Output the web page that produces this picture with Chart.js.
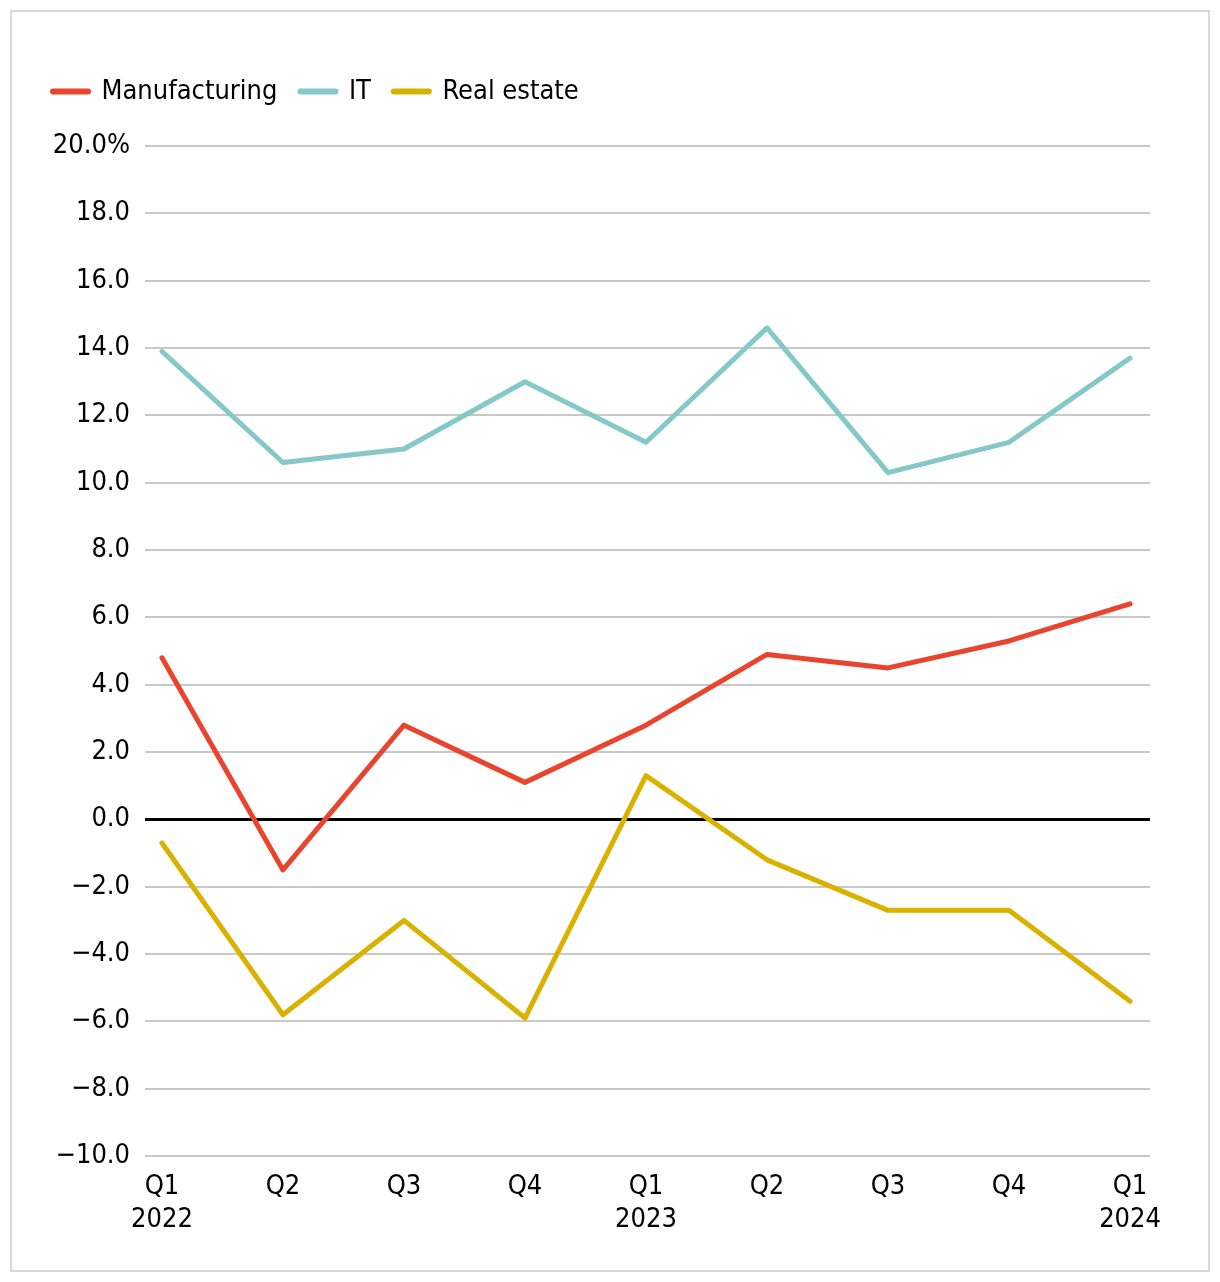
<!DOCTYPE html>
<html><head><meta charset="utf-8">
<script src="https://cdn.jsdelivr.net/npm/chart.js@4/dist/chart.umd.min.js"></script>
<style>html,body{margin:0;padding:0;background:#fff}#wrap{position:relative;width:1220px;height:1282px}</style>
</head><body><div id="wrap"><canvas id="c" width="1220" height="1282"></canvas></div>
<script>
const quarters = ['Q1','Q2','Q3','Q4','Q1','Q2','Q3','Q4','Q1'];
const years = ['2022','','','','2023','','','','2024'];
const manufacturing = [4.8,-1.5,2.8,1.1,2.8,4.9,4.5,5.3,6.4];
const it = [13.9,10.6,11.0,13.0,11.2,14.6,10.3,11.2,13.7];
const realEstate = [-0.7,-5.8,-3.0,-5.9,1.3,-1.2,-2.7,-2.7,-5.4];
const seriesNames = ['Manufacturing','IT','Real estate'];
const colors = ['#e8442e','#84c8c8','#d9b200'];
const yTicks = [-10,-8,-6,-4,-2,0,2,4,6,8,10,12,14,16,18,20];

const FONT = '"DejaVu Sans Condensed", "DejaVu Sans", sans-serif';
const toPts = arr => arr.map((v,i)=>({x:i,y:v}));
const mk = (label, data, color) => ({label, data: toPts(data), borderColor: color, backgroundColor: color,
  borderWidth: 5, pointRadius: 0, tension: 0, borderCapStyle: 'round', borderJoinStyle: 'round'});

const borderPlugin = {id:'frame', beforeDraw(chart){const c=chart.ctx;c.save();c.strokeStyle='#d9d9d9';c.lineWidth=2;c.strokeRect(11,11,1198,1260);c.restore();}};
const legendGap = {id:'legendGap', beforeInit(chart){ const lg = chart.legend; if(!lg) return; const orig = lg.fit; lg.fit = function(){ orig.call(this); this.height += 31; }; }};

new Chart(document.getElementById('c'), {
  type: 'line',
  data: { datasets: [mk(seriesNames[0], manufacturing, colors[0]), mk(seriesNames[1], it, colors[1]), mk(seriesNames[2], realEstate, colors[2])] },
  options: {
    responsive: false, animation: false, devicePixelRatio: 1,
    layout: { padding: { left: 30, right: 70, top: 55, bottom: 40 } },
    plugins: {
      tooltip: {enabled:false},
      legend: { position: 'top', align: 'start',
        labels: { font: {family: FONT, size: 27}, color: '#000', usePointStyle: true, pointStyle: 'line', pointStyleWidth: 35, boxHeight: 6, boxWidth: 35, padding: 23,
          generateLabels(chart){ return chart.data.datasets.map((d,i)=>({text:d.label, strokeStyle:d.borderColor, fillStyle:d.borderColor, lineWidth:6, lineCap:'round', pointStyle:'line', datasetIndex:i, fontColor:'#000'})); } } }
    },
    scales: {
      x: { type: 'linear', min: -0.14, max: 8.165,
        afterBuildTicks(s){ s.ticks = quarters.map((q,i)=>({value:i})); },
        ticks: { autoSkip: false, maxRotation: 0, font: {family: FONT, size: 27, lineHeight: 1.22}, color: '#000', padding: 6,
          callback(v){ const i = Math.round(v); return years[i] ? [quarters[i], years[i]] : quarters[i]; } },
        grid: { display: false }, border: { display: false } },
      y: { min: -10, max: 20,
        afterBuildTicks(s){ s.ticks = yTicks.map(v=>({value:v})); },
        afterFit(s){ s.width = 115; },
        ticks: { font: {family: FONT, size: 27}, color: '#000', padding: 15,
          callback(v){ if (v===20) return '20.0%'; return (v<0?'\u2212':'') + Math.abs(v).toFixed(1); } },
        grid: { drawTicks: false, color: c => c.tick && c.tick.value===0 ? '#000' : '#c8c8c8', lineWidth: c => c.tick && c.tick.value===0 ? 3 : 2 },
        border: { display: false } }
    }
  },
  plugins: [borderPlugin, legendGap]
});
</script></body></html>
